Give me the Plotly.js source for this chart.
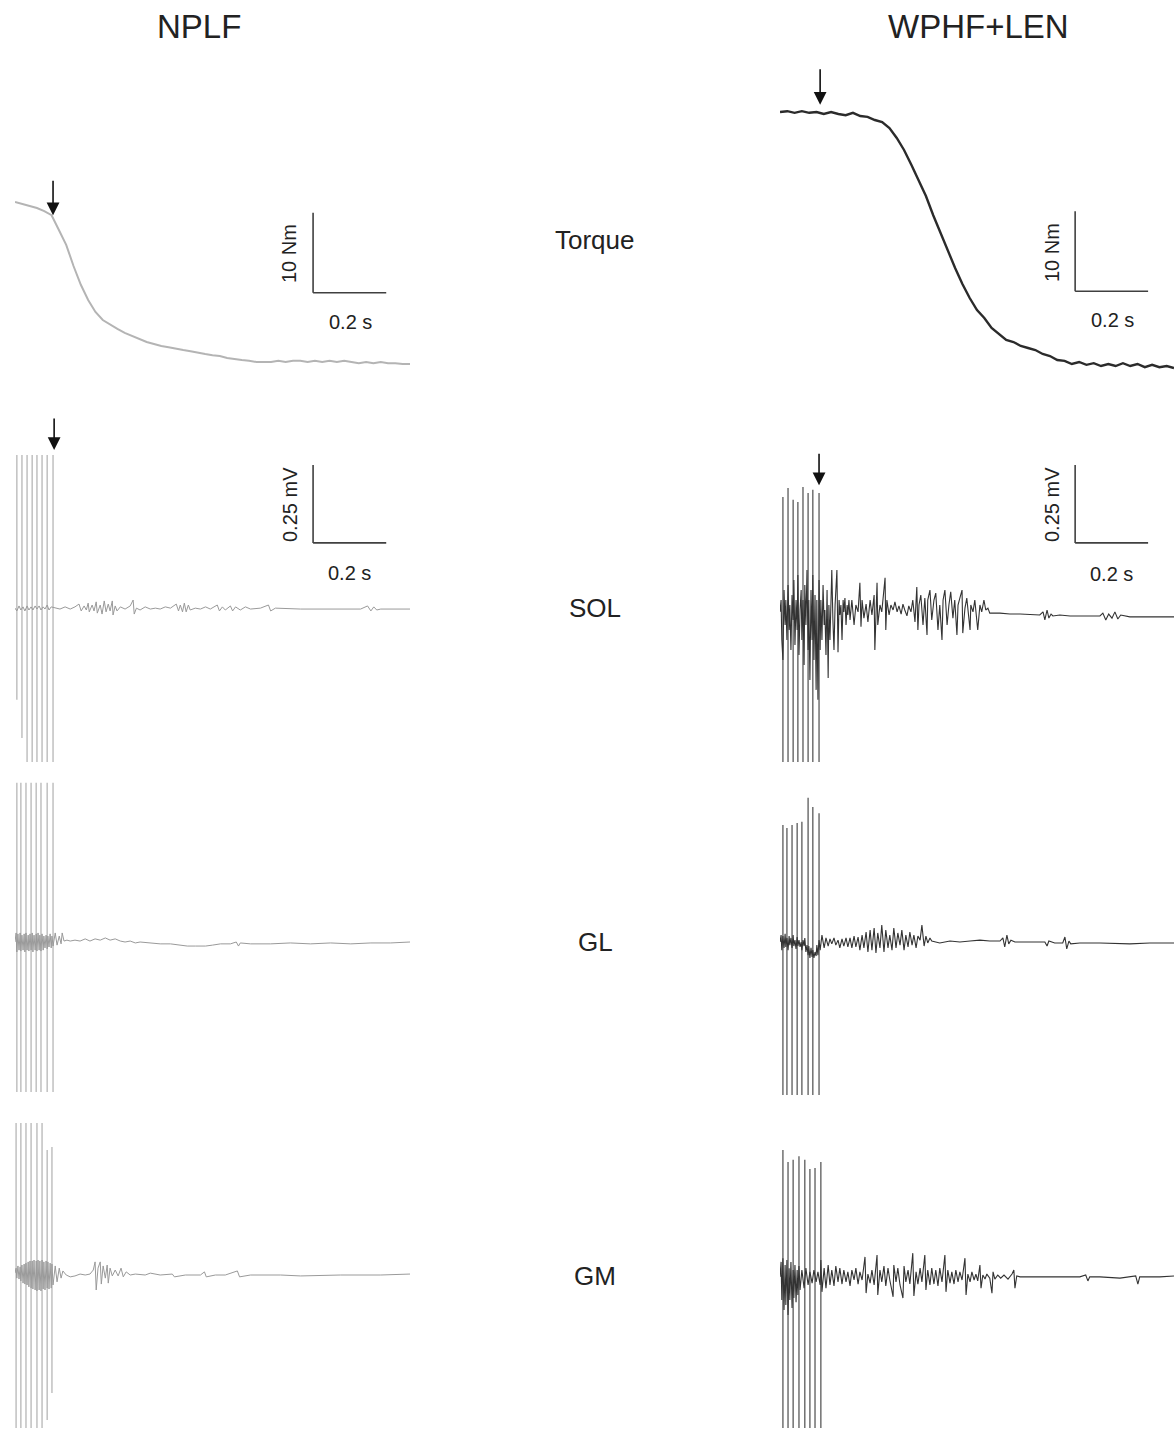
<!DOCTYPE html>
<html><head><meta charset="utf-8">
<script src="https://cdn.plot.ly/plotly-3.0.1.min.js"></script>
<style>body{margin:0;background:#fff}#chart{width:1174px;height:1429px}</style>
</head><body><div id="chart"></div>
<script>
// ---------- DATA (time in ms, torque in Nm, EMG in mV) ----------
const conditions = ["NPLF", "WPHF+LEN"];
const rowLabels = ["Torque", "SOL", "GL", "GM"];
const scaleTime = 200;     // ms  (0.2 s)
const scaleTorque = 10;    // Nm
const scaleEmg = 0.25;     // mV
const onsetLeft = 107;     // ms, stretch onset arrow
const onsetRight = 110;

const torqueT = [0,20,40,60,80,100,120,140,160,180,200,220,240,260,280,300,320,340,360,380,400,420,440,460,480,500,520,540,560,580,600,620,640,660,680,700,720,740,760,780,800,820,840,860,880,900,920,940,960,980,1000,1020,1040,1060,1080];
const torqueLeft = [22.25,22.0,21.75,21.5,21.1,20.6,18.75,16.9,14.25,11.9,10.0,8.5,7.5,6.9,6.4,5.9,5.5,5.1,4.75,4.5,4.25,4.1,3.9,3.75,3.6,3.4,3.25,3.1,3.0,2.75,2.6,2.5,2.4,2.25,2.25,2.25,2.4,2.25,2.4,2.4,2.25,2.4,2.25,2.4,2.25,2.4,2.25,2.1,2.25,2.1,2.25,2.1,2.1,2.0,2.0];
const torqueRight = [33.5,33.6,33.4,33.6,33.4,33.5,33.25,33.5,33.25,33.1,33.4,33.0,32.9,32.5,32.25,31.5,30.25,28.75,26.9,25.0,23.0,20.6,18.4,16.0,14.0,12.0,10.25,8.75,7.75,6.5,5.75,5.0,4.75,4.25,4.0,3.75,3.25,3.0,2.5,2.4,2.0,2.25,1.9,2.1,1.75,2.0,1.75,2.1,1.75,2.0,1.6,1.9,1.6,1.75,1.5];

// stimulation artefacts: time, top, bottom (mV)
const artSolLT = [5,19,33,47,60,74,88,104];
const artSolLTop = [0.497,0.497,0.497,0.497,0.497,0.497,0.497,0.497];
const artSolLBot = [-0.288,-0.41,-0.487,-0.487,-0.487,-0.487,-0.487,-0.487];
const artSolRT = [8,22,36,49,63,77,90,107];
const artSolRTop = [0.362,0.391,0.353,0.346,0.394,0.375,0.385,0.375];
const artSolRBot = [-0.487,-0.487,-0.487,-0.487,-0.487,-0.487,-0.487,-0.487];
const artGlLT = [5,16,30,44,58,71,88,104];
const artGlLTop = [0.51,0.51,0.51,0.51,0.51,0.51,0.51,0.51];
const artGlLBot = [-0.481,-0.481,-0.481,-0.481,-0.481,-0.481,-0.481,-0.481];
const artGlRT = [8,19,33,47,60,77,90,107];
const artGlRTop = [0.375,0.365,0.375,0.381,0.385,0.462,0.433,0.413];
const artGlRBot = [-0.49,-0.49,-0.49,-0.49,-0.49,-0.49,-0.49,-0.49];
const artGmLT = [3,16,30,44,60,74,88,101];
const artGmLTop = [0.487,0.487,0.487,0.487,0.487,0.487,0.401,0.41];
const artGmLBot = [-0.49,-0.49,-0.49,-0.49,-0.49,-0.49,-0.465,-0.378];
const artGmRT = [8,22,36,52,68,82,96,112];
const artGmRTop = [0.401,0.362,0.369,0.381,0.369,0.34,0.343,0.362];
const artGmRBot = [-0.49,-0.49,-0.49,-0.49,-0.49,-0.49,-0.49,-0.49];

// EMG traces [ms, mV]
const solLeft = [[0,0.006],[5,-0.003],[11,0.013],[16,0],[22,0.01],[27,-0.003],[33,0.013],[38,0],[44,0.01],[49,0],[55,0.013],[60,0.003],[66,0.013],[71,0],[77,0.01],[82,0.003],[88,0.016],[93,0],[99,0.01],[110,0.006],[123,0.003],[137,0.01],[151,0.003],[164,0.01],[175,0.019],[181,-0.003],[189,0.013],[195,0],[200,0.022],[203,-0.006],[211,0.016],[216,-0.003],[222,0.026],[225,-0.01],[233,0.016],[238,-0.013],[244,0.029],[249,-0.006],[255,0.019],[260,-0.003],[266,0.029],[268,-0.016],[274,0.013],[279,-0.003],[288,0.01],[301,0.003],[315,0.013],[323,0.032],[326,-0.013],[332,0.006],[342,0],[356,0.01],[370,0.003],[384,0.006],[397,0.003],[411,0.01],[425,0.006],[441,0.019],[447,-0.003],[452,0.016],[458,-0.006],[463,0.022],[468,-0.006],[474,0.016],[479,0],[493,0.006],[507,0.003],[521,0.01],[534,0.003],[553,0.016],[559,-0.003],[567,0.01],[575,0],[589,0.013],[595,-0.003],[603,0.01],[616,0],[630,0.01],[644,0.003],[671,0.006],[693,0.016],[699,-0.003],[712,0.006],[781,0.003],[863,0.003],[945,0.003],[964,0.013],[973,-0.003],[981,0.01],[989,0],[1000,0.003],[1080,0.003]];

const solRight = [[0,-0.006],[3,0.032],[5,-0.096],[8,-0.16],[11,0.064],[14,-0.048],[16,0.032],[19,-0.096],[22,0.08],[25,-0.064],[27,0.016],[30,-0.128],[33,0.048],[36,-0.032],[38,0.096],[41,-0.112],[44,0.032],[47,-0.064],[49,0.112],[52,-0.144],[55,0],[58,0.064],[60,-0.096],[63,0.032],[66,-0.176],[68,0.08],[71,-0.048],[74,0.128],[77,-0.128],[79,0.032],[82,-0.224],[85,0.064],[88,-0.096],[90,0.112],[93,-0.16],[96,0.048],[99,-0.256],[101,0.032],[104,-0.288],[107,0.096],[110,-0.128],[112,0.032],[115,-0.096],[118,0.08],[121,-0.048],[123,0],[126,-0.144],[129,0.064],[132,-0.218],[134,0.016],[137,-0.096],[140,0.032],[142,0.128],[145,-0.032],[148,-0.128],[151,0.016],[153,0.048],[156,0.128],[159,-0.135],[162,0.032],[164,-0.016],[167,0.016],[170,-0.096],[173,0.032],[175,-0.006],[178,0.038],[181,-0.048],[184,0.016],[186,-0.016],[189,0.032],[192,-0.032],[197,0.032],[203,-0.048],[208,0.016],[214,-0.006],[219,0.087],[222,-0.054],[225,0.032],[230,-0.026],[236,0.019],[241,-0.038],[247,0.032],[252,-0.016],[258,0.048],[260,-0.128],[263,0.032],[266,0.087],[268,-0.048],[274,0.016],[279,-0.006],[285,0.064],[288,0.103],[290,-0.064],[293,0.032],[299,-0.016],[304,0.016],[310,0],[315,0.026],[321,-0.006],[326,0.013],[332,-0.013],[337,0.019],[342,0],[348,-0.019],[353,0.013],[359,-0.006],[364,0.032],[370,-0.038],[375,0.074],[378,-0.064],[381,0.016],[386,0.048],[392,-0.048],[397,0.038],[403,-0.08],[405,0.032],[411,0.064],[416,-0.032],[422,0.032],[427,0.054],[433,-0.064],[438,0.016],[444,-0.096],[447,0.032],[452,0.064],[458,-0.048],[463,0.016],[468,0.058],[474,-0.026],[479,0.032],[485,-0.08],[488,0.016],[493,0.038],[499,0.064],[501,-0.074],[507,0.006],[512,0.038],[518,-0.032],[521,-0.064],[523,0.016],[529,-0.006],[534,0.032],[540,-0.026],[542,-0.064],[548,0.016],[553,-0.006],[559,0.032],[564,0],[570,0.006],[575,-0.01],[603,-0.01],[630,-0.013],[658,-0.013],[712,-0.016],[721,-0.006],[726,-0.032],[732,0],[737,-0.026],[743,-0.013],[748,-0.019],[767,-0.016],[795,-0.019],[822,-0.019],[849,-0.019],[877,-0.019],[885,-0.01],[893,-0.032],[901,-0.013],[910,-0.026],[918,-0.006],[926,-0.029],[934,-0.016],[959,-0.022],[1014,-0.022],[1080,-0.022]];

const glLeft = [[0,0],[3,0.029],[5,-0.032],[8,0.026],[11,-0.026],[14,0.029],[16,-0.029],[19,0.022],[22,-0.026],[25,0.026],[27,-0.032],[30,0.029],[33,-0.026],[36,0.022],[38,-0.029],[41,0.026],[44,-0.026],[47,0.029],[49,-0.032],[52,0.022],[55,-0.026],[58,0.026],[60,-0.029],[63,0.029],[66,-0.026],[68,0.022],[71,-0.029],[74,0.026],[77,-0.026],[79,0.019],[82,-0.019],[85,0.022],[88,-0.022],[90,0.019],[93,-0.016],[96,0.026],[99,-0.019],[101,0.019],[104,-0.013],[110,0.029],[115,-0.01],[121,0.019],[126,-0.006],[129,0.029],[134,0.003],[142,0.006],[151,0.003],[164,0.006],[178,0.003],[192,0.01],[205,0.003],[219,0.01],[233,0.006],[247,0.013],[260,0.006],[274,0.01],[288,0.003],[301,0],[315,0.003],[329,-0.003],[342,0],[370,-0.003],[397,-0.006],[425,-0.006],[452,-0.01],[471,-0.013],[493,-0.013],[521,-0.013],[540,-0.01],[562,-0.006],[589,-0.006],[605,0],[611,-0.013],[616,-0.003],[644,-0.006],[699,-0.006],[753,-0.003],[808,-0.006],[863,-0.003],[918,-0.006],[973,-0.003],[1027,-0.003],[1080,0]];

const glRight = [[0,0],[3,0.022],[5,-0.026],[8,0.019],[11,-0.019],[14,0.026],[16,-0.016],[19,0.013],[22,-0.026],[25,0.019],[27,-0.01],[30,0.013],[33,-0.019],[36,0.022],[38,-0.013],[41,0.006],[44,-0.022],[47,0.016],[49,-0.013],[52,0.006],[55,-0.016],[58,0],[60,-0.026],[63,0.006],[66,-0.013],[68,0.013],[71,-0.032],[74,-0.01],[77,-0.042],[79,-0.013],[82,-0.051],[85,-0.019],[88,-0.048],[90,-0.026],[93,-0.051],[96,-0.032],[99,-0.045],[101,-0.01],[104,-0.042],[107,0.006],[110,-0.026],[115,0.022],[121,-0.019],[126,0.013],[132,-0.013],[137,0.01],[142,-0.006],[148,0.013],[153,-0.01],[159,0.006],[164,-0.019],[170,0.01],[175,-0.013],[181,0.013],[186,-0.016],[192,0.013],[197,-0.019],[203,0.019],[208,-0.016],[214,0.016],[219,-0.026],[225,0.022],[230,-0.019],[236,0.032],[241,-0.032],[247,0.038],[252,-0.026],[258,0.045],[263,-0.035],[268,0.029],[274,-0.019],[279,0.054],[285,-0.032],[290,0.038],[296,-0.019],[301,0.022],[307,-0.026],[312,0.045],[318,-0.019],[323,0.029],[329,-0.01],[334,0.038],[340,-0.026],[345,0.022],[351,-0.016],[356,0.032],[362,-0.01],[367,0.022],[373,-0.019],[378,0.019],[384,0.006],[389,0.054],[395,-0.013],[400,0.019],[405,-0.003],[411,0.013],[416,0.003],[425,0],[438,-0.003],[466,0.003],[493,0],[521,0.003],[548,0.006],[575,0.003],[603,0.003],[611,0.013],[616,-0.016],[622,0.022],[627,-0.006],[633,0.006],[644,0],[685,0],[726,0],[732,-0.013],[737,0.003],[753,-0.003],[775,-0.003],[781,0.016],[786,-0.022],[792,0.003],[797,-0.006],[822,-0.003],[877,-0.003],[959,-0.006],[1014,-0.003],[1080,-0.003]];

const gmLeft = [[0,0.006],[3,0.022],[5,-0.01],[8,0.029],[11,-0.013],[14,0.026],[16,-0.019],[19,0.032],[22,-0.026],[25,0.035],[27,-0.029],[30,0.038],[33,-0.032],[36,0.042],[38,-0.038],[41,0.045],[44,-0.042],[47,0.045],[49,-0.045],[52,0.048],[55,-0.048],[58,0.045],[60,-0.051],[63,0.048],[66,-0.048],[68,0.045],[71,-0.051],[74,0.048],[77,-0.045],[79,0.042],[82,-0.048],[85,0.045],[88,-0.042],[90,0.042],[93,-0.045],[96,0.038],[99,-0.042],[101,0.035],[104,-0.032],[110,0.029],[115,-0.022],[121,0.022],[126,-0.01],[131,0.013],[140,0],[151,-0.006],[164,-0.003],[178,0.003],[192,0],[205,0.003],[214,0.016],[219,0.042],[222,-0.048],[227,0.022],[233,0.042],[236,-0.029],[241,0.029],[247,-0.01],[252,0.032],[255,-0.026],[260,0.022],[266,-0.003],[274,0.016],[282,-0.003],[290,0.022],[296,-0.006],[304,0.01],[315,0],[329,0.003],[356,0],[370,0.006],[397,0],[430,0.003],[436,-0.006],[466,0],[507,0],[518,0.01],[523,-0.006],[548,0],[575,0],[608,0.013],[614,-0.006],[644,0],[726,0],[781,-0.003],[890,0],[1000,0],[1080,0.003]];

const gmRight = [[0,-0.006],[3,0.042],[5,-0.08],[8,0.054],[11,-0.112],[14,0.032],[16,-0.096],[19,0.048],[22,-0.128],[25,0.022],[27,-0.08],[30,0.042],[33,-0.106],[36,0.016],[38,-0.074],[41,0.032],[44,-0.087],[47,0.016],[49,-0.064],[52,0.029],[55,-0.048],[60,0.016],[66,-0.042],[71,0.022],[77,-0.032],[82,0.01],[88,-0.026],[93,0.016],[99,-0.022],[104,0.01],[110,-0.032],[112,0.048],[115,-0.054],[121,0.022],[126,-0.042],[132,0.032],[137,-0.032],[142,0.016],[148,-0.035],[153,0.029],[159,-0.022],[164,0.022],[170,-0.029],[175,0.016],[181,-0.022],[186,0.01],[192,-0.035],[197,0.016],[203,-0.016],[208,0.022],[214,-0.029],[219,0.01],[225,-0.016],[233,0.058],[236,-0.058],[241,0.003],[247,-0.026],[252,0.016],[258,-0.032],[266,0.064],[268,-0.064],[274,0.016],[279,-0.022],[285,0.029],[290,-0.035],[296,0.022],[301,-0.016],[310,-0.07],[312,0.032],[318,-0.022],[323,0.022],[329,-0.032],[337,-0.074],[340,0.029],[345,-0.022],[351,0.016],[356,-0.029],[364,0.07],[367,-0.067],[373,0.01],[378,-0.029],[384,0.022],[389,-0.022],[397,0.064],[400,-0.048],[405,0.016],[411,-0.032],[416,0.022],[422,-0.029],[427,0.016],[433,-0.035],[438,0.022],[444,-0.022],[452,0.064],[455,-0.054],[460,0.016],[466,-0.026],[471,0.01],[477,-0.029],[482,0.016],[488,-0.022],[493,0.01],[499,-0.016],[507,0.054],[510,-0.064],[515,0.003],[521,-0.022],[526,0.01],[532,-0.016],[537,0.003],[542,-0.019],[548,0.032],[551,-0.042],[556,0],[562,-0.013],[567,0.003],[575,-0.01],[581,-0.058],[584,0.01],[589,-0.013],[597,0],[605,-0.01],[614,0],[625,-0.013],[636,0.003],[641,0.016],[644,-0.042],[649,-0.003],[658,-0.006],[712,-0.006],[767,-0.006],[822,-0.006],[838,0],[844,-0.019],[849,-0.006],[877,-0.006],[932,-0.01],[975,-0.003],[981,-0.029],[986,-0.006],[1041,-0.006],[1080,-0.003]];

// ---------- BUILD ----------
const W = 1174, H = 1429;
const px = v => v / W;            // horizontal paper fraction
const py = v => 1 - v / H;        // vertical paper fraction

const LIGHT = '#b4b4b4', LIGHT_EMG = '#9a9a9a', LIGHT_ART = '#c4c4c4';
const DARK = '#2b2b2b', DARK_EMG = '#333333', DARK_ART = '#5a5a5a';

function art(times, tops, bots) {
  const x = [], y = [];
  times.forEach((t, i) => { x.push(t, t, null); y.push(tops[i], bots[i], null); });
  return {x, y};
}
function line(xa, ya, x, y, color, width) {
  return {type: 'scatter', mode: 'lines', xaxis: xa, yaxis: ya, x, y,
          line: {color, width}, hoverinfo: 'skip', showlegend: false, connectgaps: false};
}
const pairsX = p => p.map(d => d[0]);
const pairsY = p => p.map(d => d[1]);

const traces = [];
traces.push(line('x', 'y', torqueT, torqueLeft, LIGHT, 2));
traces.push(line('x2', 'y2', torqueT, torqueRight, DARK, 2.4));

const emgPanels = [
  ['x3','y3', solLeft, art(artSolLT, artSolLTop, artSolLBot), false],
  ['x4','y4', solRight, art(artSolRT, artSolRTop, artSolRBot), true],
  ['x5','y5', glLeft, art(artGlLT, artGlLTop, artGlLBot), false],
  ['x6','y6', glRight, art(artGlRT, artGlRTop, artGlRBot), true],
  ['x7','y7', gmLeft, art(artGmLT, artGmLTop, artGmLBot), false],
  ['x8','y8', gmRight, art(artGmRT, artGmRTop, artGmRBot), true]
];
emgPanels.forEach(([xa, ya, p, a, dark]) => {
  traces.push(line(xa, ya, a.x, a.y, dark ? DARK_ART : LIGHT_ART, dark ? 1.3 : 1.6));
  traces.push(line(xa, ya, pairsX(p), pairsY(p), dark ? DARK_EMG : LIGHT_EMG, dark ? 1.1 : 1));
});

const xL = [px(15), px(410)], xR = [px(780), 1];
const torqueDom = [py(380), py(60)];
const solDom = [py(776), py(444)], glDom = [py(1108), py(776)], gmDom = [0, py(1121)];
const emgR = 0.532, gmR = 0.4936;

function ax(domain, range) {
  return {domain, range, visible: false, fixedrange: true, showgrid: false, zeroline: false};
}
const layout = {
  width: W, height: H, margin: {l: 0, r: 0, t: 0, b: 0},
  paper_bgcolor: '#fff', plot_bgcolor: 'rgba(0,0,0,0)', showlegend: false,
  font: {family: 'Liberation Sans, Arial, sans-serif', color: '#222'},
  xaxis: ax(xL, [0, 1080]), yaxis: ax(torqueDom, [0, 40]),
  xaxis2: ax(xR, [0, 1080]), yaxis2: ax(torqueDom, [0, 40]),
  xaxis3: ax(xL, [0, 1080]), yaxis3: ax(solDom, [-emgR, emgR]),
  xaxis4: ax(xR, [0, 1080]), yaxis4: ax(solDom, [-emgR, emgR]),
  xaxis5: ax(xL, [0, 1080]), yaxis5: ax(glDom, [-emgR, emgR]),
  xaxis6: ax(xR, [0, 1080]), yaxis6: ax(glDom, [-emgR, emgR]),
  xaxis7: ax(xL, [0, 1080]), yaxis7: ax(gmDom, [-gmR, gmR]),
  xaxis8: ax(xR, [0, 1080]), yaxis8: ax(gmDom, [-gmR, gmR]),
  shapes: [], annotations: []
};

// scale bars (L-shaped)
const bars = [
  {xa: 'x', ya: 'y', t: 815, v: 10.9, dv: scaleTorque},
  {xa: 'x2', ya: 'y2', t: 809, v: 11.1, dv: scaleTorque},
  {xa: 'x3', ya: 'y3', t: 815, v: 0.215, dv: scaleEmg},
  {xa: 'x4', ya: 'y4', t: 809, v: 0.215, dv: scaleEmg}
];
bars.forEach(b => {
  const st = {xref: b.xa, yref: b.ya, type: 'line', line: {color: '#404040', width: 1.6}};
  layout.shapes.push(Object.assign({x0: b.t, x1: b.t, y0: b.v, y1: b.v + b.dv}, st));
  layout.shapes.push(Object.assign({x0: b.t, x1: b.t + scaleTime, y0: b.v, y1: b.v}, st));
});

function txt(text, x, y, size, angle) {
  layout.annotations.push({text, x: px(x), y: py(y), xref: 'paper', yref: 'paper',
    xanchor: 'center', yanchor: 'middle', showarrow: false, textangle: angle || 0,
    font: {size, color: '#222', family: 'Liberation Sans, Arial, sans-serif'}});
}
txt(conditions[0], 199, 27, 33);
txt(conditions[1], 978, 27, 33);
txt(rowLabels[0], 595, 240, 26);
txt(rowLabels[1], 595, 608, 26);
txt(rowLabels[2], 595, 942, 26);
txt(rowLabels[3], 595, 1276, 26);
const tLabel = (scaleTime / 1000) + ' s';
const nmLabel = scaleTorque + ' Nm';
const mvLabel = scaleEmg + ' mV';
txt(nmLabel, 289, 254, 20, -90);
txt(tLabel, 350, 322, 20);
txt(nmLabel, 1052, 253, 20, -90);
txt(tLabel, 1112, 320, 20);
txt(mvLabel, 290, 505, 20, -90);
txt(tLabel, 349, 573, 20);
txt(mvLabel, 1052, 505, 20, -90);
txt(tLabel, 1111, 574, 20);

// stretch-onset arrows
function arrow(xa, ya, x, y, len) {
  layout.annotations.push({text: '', x, y, xref: xa, yref: ya, ax: 0, ay: -len,
    showarrow: true, arrowhead: 2, arrowsize: 1.6, arrowwidth: 1.6, arrowcolor: '#111', standoff: 0});
}
arrow('x', 'y', onsetLeft - 3, 20.6, 36);
arrow('x2', 'y2', onsetRight, 34.4, 37);
arrow('x3', 'y3', onsetLeft, 0.513, 33);
arrow('x4', 'y4', onsetRight - 3, 0.40, 33);

Plotly.newPlot('chart', traces, layout, {staticPlot: true, displayModeBar: false});
</script>
</body></html>
